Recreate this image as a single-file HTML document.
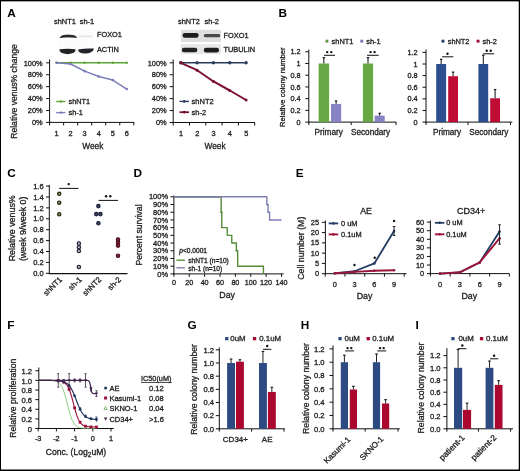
<!DOCTYPE html>
<html><head><meta charset="utf-8"><style>
html,body{margin:0;padding:0;background:#fff;}
svg{display:block;font-family:"Liberation Sans",sans-serif;}
</style></head><body>
<svg width="520" height="471" viewBox="0 0 520 471">
<defs><filter id="bl" x="-20%" y="-50%" width="140%" height="200%"><feGaussianBlur stdDeviation="0.55"/></filter></defs>
<rect x="0" y="0" width="520" height="471" fill="#fff"/>
<g style="will-change:opacity" opacity="0.999">
<text x="7.3" y="17" font-size="11.8" text-anchor="start" fill="#000" font-weight="bold">A</text>
<text x="54" y="24.1" font-size="7.4" text-anchor="start" fill="#222" font-weight="normal" stroke="#222" stroke-width="0.3">shNT1</text>
<text x="79.8" y="24.1" font-size="7.4" text-anchor="start" fill="#222" font-weight="normal" stroke="#222" stroke-width="0.3">sh-1</text>
<rect x="57" y="29" width="38" height="26" fill="#fcfcfc"/>
<g filter="url(#bl)">
<path d="M60.2 37.6 Q61 35.2 68 35.1 Q75.5 35.2 76.6 37.4 Q75 36.9 68 36.9 Q61.5 36.9 60.2 37.6 Z" fill="#222" stroke="#222" stroke-width="0.9"/>
<rect x="78.5" y="35.6" width="14" height="1.6" rx="0.8" fill="#e4e4e4"/>
<path d="M59.4 49.3 Q67.5 48.3 75.6 49.3 Q75.8 53.6 67.5 54.2 Q59.2 53.6 59.4 49.3 Z" fill="#242424"/>
<path d="M78.2 49.6 Q86 48 93.8 48.6 Q93.6 52.8 86 53.6 Q78 53.8 78.2 49.6 Z" fill="#20202c"/>
</g>
<text x="97" y="37.3" font-size="7.3" text-anchor="start" fill="#222" font-weight="normal" stroke="#222" stroke-width="0.3">FOXO1</text>
<text x="97" y="51.8" font-size="7.3" text-anchor="start" fill="#222" font-weight="normal" stroke="#222" stroke-width="0.3">ACTIN</text>
<line x1="49.6" y1="59.5" x2="49.6" y2="123" stroke="#111" stroke-width="1"/>
<line x1="49.1" y1="122.4" x2="134.3" y2="122.4" stroke="#111" stroke-width="1"/>
<line x1="46.1" y1="122.4" x2="49.6" y2="122.4" stroke="#111" stroke-width="1"/>
<text x="42.6" y="125.1" font-size="7.4" text-anchor="end" fill="#222" font-weight="normal" stroke="#222" stroke-width="0.3">0%</text>
<line x1="46.1" y1="110.48" x2="49.6" y2="110.48" stroke="#111" stroke-width="1"/>
<text x="42.6" y="113.18" font-size="7.4" text-anchor="end" fill="#222" font-weight="normal" stroke="#222" stroke-width="0.3">20%</text>
<line x1="46.1" y1="98.56" x2="49.6" y2="98.56" stroke="#111" stroke-width="1"/>
<text x="42.6" y="101.26" font-size="7.4" text-anchor="end" fill="#222" font-weight="normal" stroke="#222" stroke-width="0.3">40%</text>
<line x1="46.1" y1="86.64" x2="49.6" y2="86.64" stroke="#111" stroke-width="1"/>
<text x="42.6" y="89.34" font-size="7.4" text-anchor="end" fill="#222" font-weight="normal" stroke="#222" stroke-width="0.3">60%</text>
<line x1="46.1" y1="74.72" x2="49.6" y2="74.72" stroke="#111" stroke-width="1"/>
<text x="42.6" y="77.42" font-size="7.4" text-anchor="end" fill="#222" font-weight="normal" stroke="#222" stroke-width="0.3">80%</text>
<line x1="46.1" y1="62.8" x2="49.6" y2="62.8" stroke="#111" stroke-width="1"/>
<text x="42.6" y="65.5" font-size="7.4" text-anchor="end" fill="#222" font-weight="normal" stroke="#222" stroke-width="0.3">100%</text>
<line x1="49.6" y1="122.4" x2="49.6" y2="125.4" stroke="#111" stroke-width="1"/>
<line x1="63.63" y1="122.4" x2="63.63" y2="125.4" stroke="#111" stroke-width="1"/>
<line x1="77.66" y1="122.4" x2="77.66" y2="125.4" stroke="#111" stroke-width="1"/>
<line x1="91.69" y1="122.4" x2="91.69" y2="125.4" stroke="#111" stroke-width="1"/>
<line x1="105.72" y1="122.4" x2="105.72" y2="125.4" stroke="#111" stroke-width="1"/>
<line x1="119.75" y1="122.4" x2="119.75" y2="125.4" stroke="#111" stroke-width="1"/>
<line x1="133.78" y1="122.4" x2="133.78" y2="125.4" stroke="#111" stroke-width="1"/>
<text x="56.6" y="136" font-size="7.4" text-anchor="middle" fill="#222" font-weight="normal" stroke="#222" stroke-width="0.3">1</text>
<text x="70.63" y="136" font-size="7.4" text-anchor="middle" fill="#222" font-weight="normal" stroke="#222" stroke-width="0.3">2</text>
<text x="84.66" y="136" font-size="7.4" text-anchor="middle" fill="#222" font-weight="normal" stroke="#222" stroke-width="0.3">3</text>
<text x="98.69" y="136" font-size="7.4" text-anchor="middle" fill="#222" font-weight="normal" stroke="#222" stroke-width="0.3">4</text>
<text x="112.72" y="136" font-size="7.4" text-anchor="middle" fill="#222" font-weight="normal" stroke="#222" stroke-width="0.3">5</text>
<text x="126.75" y="136" font-size="7.4" text-anchor="middle" fill="#222" font-weight="normal" stroke="#222" stroke-width="0.3">6</text>
<text x="92.8" y="149.1" font-size="8.3" text-anchor="middle" fill="#222" font-weight="normal" stroke="#222" stroke-width="0.3">Week</text>
<text x="17.1" y="91.5" font-size="8.6" text-anchor="middle" fill="#222" font-weight="normal" transform="rotate(-90 17.1 91.5)" stroke="#222" stroke-width="0.3">Relative venus% change</text>
<polyline points="56.6,62.8 70.63,62.8 84.66,62.8 98.69,62.8 112.72,62.8 126.75,62.8" fill="none" stroke="#5ea33b" stroke-width="1.4" stroke-linejoin="round"/>
<circle cx="56.6" cy="62.8" r="1.2" fill="#5ea33b" stroke="none" stroke-width="1"/>
<circle cx="70.63" cy="62.8" r="1.2" fill="#5ea33b" stroke="none" stroke-width="1"/>
<circle cx="84.66" cy="62.8" r="1.2" fill="#5ea33b" stroke="none" stroke-width="1"/>
<circle cx="98.69" cy="62.8" r="1.2" fill="#5ea33b" stroke="none" stroke-width="1"/>
<circle cx="112.72" cy="62.8" r="1.2" fill="#5ea33b" stroke="none" stroke-width="1"/>
<circle cx="126.75" cy="62.8" r="1.2" fill="#5ea33b" stroke="none" stroke-width="1"/>
<polyline points="56.6,62.8 70.63,63.99 84.66,71.14 98.69,76.51 112.72,80.08 126.75,89.02" fill="none" stroke="#7c7cb8" stroke-width="1.5" stroke-linejoin="round"/>
<circle cx="56.6" cy="62.8" r="1.3" fill="#7c7cb8" stroke="none" stroke-width="1"/>
<circle cx="70.63" cy="63.99" r="1.3" fill="#7c7cb8" stroke="none" stroke-width="1"/>
<circle cx="84.66" cy="71.14" r="1.3" fill="#7c7cb8" stroke="none" stroke-width="1"/>
<circle cx="98.69" cy="76.51" r="1.3" fill="#7c7cb8" stroke="none" stroke-width="1"/>
<circle cx="112.72" cy="80.08" r="1.3" fill="#7c7cb8" stroke="none" stroke-width="1"/>
<circle cx="126.75" cy="89.02" r="1.3" fill="#7c7cb8" stroke="none" stroke-width="1"/>
<line x1="56.2" y1="101.5" x2="65.4" y2="101.5" stroke="#5ea33b" stroke-width="1.4"/>
<circle cx="61" cy="101.5" r="1.2" fill="#5ea33b" stroke="none" stroke-width="1"/>
<text x="68.6" y="104.2" font-size="7.3" text-anchor="start" fill="#222" font-weight="normal" stroke="#222" stroke-width="0.3">shNT1</text>
<line x1="56.2" y1="112.6" x2="65.4" y2="112.6" stroke="#7c7cb8" stroke-width="1.4"/>
<circle cx="61" cy="112.6" r="1.2" fill="#7c7cb8" stroke="none" stroke-width="1"/>
<text x="68.6" y="115.3" font-size="7.3" text-anchor="start" fill="#222" font-weight="normal" stroke="#222" stroke-width="0.3">sh-1</text>
<text x="178" y="24.3" font-size="7.4" text-anchor="start" fill="#222" font-weight="normal" stroke="#222" stroke-width="0.3">shNT2</text>
<text x="204.6" y="24.3" font-size="7.4" text-anchor="start" fill="#222" font-weight="normal" stroke="#222" stroke-width="0.3">sh-2</text>
<rect x="180.8" y="29.8" width="40.2" height="12.2" fill="#dedede"/>
<rect x="180.8" y="44.3" width="40.2" height="9.8" fill="#e6e6e6"/>
<g filter="url(#bl)">
<rect x="182.6" y="32.9" width="16" height="4.8" rx="2.2" fill="#1e1e1e"/>
<rect x="203.8" y="33.9" width="16.4" height="3.4" rx="1.6" fill="#4a4a4a"/>
<rect x="181.8" y="47.7" width="15.6" height="4.6" rx="2.2" fill="#222"/>
<rect x="203.8" y="47.7" width="15.2" height="4.8" rx="2.3" fill="#1e1e1e"/>
</g>
<text x="223.5" y="37.6" font-size="7.4" text-anchor="start" fill="#222" font-weight="normal" stroke="#222" stroke-width="0.3">FOXO1</text>
<text x="223.5" y="52.4" font-size="7.4" text-anchor="start" fill="#222" font-weight="normal" stroke="#222" stroke-width="0.3">TUBULIN</text>
<line x1="173.2" y1="59.5" x2="173.2" y2="123" stroke="#111" stroke-width="1"/>
<line x1="172.7" y1="122.5" x2="254.8" y2="122.5" stroke="#111" stroke-width="1"/>
<line x1="169.7" y1="122.5" x2="173.2" y2="122.5" stroke="#111" stroke-width="1"/>
<text x="166.6" y="125.2" font-size="7.4" text-anchor="end" fill="#222" font-weight="normal" stroke="#222" stroke-width="0.3">0%</text>
<line x1="169.7" y1="110.56" x2="173.2" y2="110.56" stroke="#111" stroke-width="1"/>
<text x="166.6" y="113.26" font-size="7.4" text-anchor="end" fill="#222" font-weight="normal" stroke="#222" stroke-width="0.3">20%</text>
<line x1="169.7" y1="98.62" x2="173.2" y2="98.62" stroke="#111" stroke-width="1"/>
<text x="166.6" y="101.32" font-size="7.4" text-anchor="end" fill="#222" font-weight="normal" stroke="#222" stroke-width="0.3">40%</text>
<line x1="169.7" y1="86.68" x2="173.2" y2="86.68" stroke="#111" stroke-width="1"/>
<text x="166.6" y="89.38" font-size="7.4" text-anchor="end" fill="#222" font-weight="normal" stroke="#222" stroke-width="0.3">60%</text>
<line x1="169.7" y1="74.74" x2="173.2" y2="74.74" stroke="#111" stroke-width="1"/>
<text x="166.6" y="77.44" font-size="7.4" text-anchor="end" fill="#222" font-weight="normal" stroke="#222" stroke-width="0.3">80%</text>
<line x1="169.7" y1="62.8" x2="173.2" y2="62.8" stroke="#111" stroke-width="1"/>
<text x="166.6" y="65.5" font-size="7.4" text-anchor="end" fill="#222" font-weight="normal" stroke="#222" stroke-width="0.3">100%</text>
<line x1="173.2" y1="122.5" x2="173.2" y2="125.5" stroke="#111" stroke-width="1"/>
<line x1="189.5" y1="122.5" x2="189.5" y2="125.5" stroke="#111" stroke-width="1"/>
<line x1="205.8" y1="122.5" x2="205.8" y2="125.5" stroke="#111" stroke-width="1"/>
<line x1="222.1" y1="122.5" x2="222.1" y2="125.5" stroke="#111" stroke-width="1"/>
<line x1="238.4" y1="122.5" x2="238.4" y2="125.5" stroke="#111" stroke-width="1"/>
<line x1="254.7" y1="122.5" x2="254.7" y2="125.5" stroke="#111" stroke-width="1"/>
<text x="181" y="136" font-size="7.4" text-anchor="middle" fill="#222" font-weight="normal" stroke="#222" stroke-width="0.3">1</text>
<text x="197.3" y="136" font-size="7.4" text-anchor="middle" fill="#222" font-weight="normal" stroke="#222" stroke-width="0.3">2</text>
<text x="213.6" y="136" font-size="7.4" text-anchor="middle" fill="#222" font-weight="normal" stroke="#222" stroke-width="0.3">3</text>
<text x="229.9" y="136" font-size="7.4" text-anchor="middle" fill="#222" font-weight="normal" stroke="#222" stroke-width="0.3">4</text>
<text x="246.2" y="136" font-size="7.4" text-anchor="middle" fill="#222" font-weight="normal" stroke="#222" stroke-width="0.3">5</text>
<text x="215.1" y="149.1" font-size="8.3" text-anchor="middle" fill="#222" font-weight="normal" stroke="#222" stroke-width="0.3">Week</text>
<polyline points="180.8,62.8 197.13,62.8 213.46,62.8 229.79,62.8 246.12,62.8" fill="none" stroke="#2b3b5e" stroke-width="1.4" stroke-linejoin="round"/>
<circle cx="180.8" cy="62.8" r="1.7" fill="#2b3b5e" stroke="none" stroke-width="1"/>
<circle cx="197.13" cy="62.8" r="1.7" fill="#2b3b5e" stroke="none" stroke-width="1"/>
<circle cx="213.46" cy="62.8" r="1.7" fill="#2b3b5e" stroke="none" stroke-width="1"/>
<circle cx="229.79" cy="62.8" r="1.7" fill="#2b3b5e" stroke="none" stroke-width="1"/>
<circle cx="246.12" cy="62.8" r="1.7" fill="#2b3b5e" stroke="none" stroke-width="1"/>
<polyline points="180.8,62.8 197.13,70.2 213.46,81.49 229.79,90.5 246.12,99.99" fill="none" stroke="#7a102f" stroke-width="2" stroke-linejoin="round"/>
<circle cx="180.8" cy="62.8" r="1.5" fill="#7a102f" stroke="none" stroke-width="1"/>
<circle cx="197.13" cy="70.2" r="1.5" fill="#7a102f" stroke="none" stroke-width="1"/>
<circle cx="213.46" cy="81.49" r="1.5" fill="#7a102f" stroke="none" stroke-width="1"/>
<circle cx="229.79" cy="90.5" r="1.5" fill="#7a102f" stroke="none" stroke-width="1"/>
<circle cx="246.12" cy="99.99" r="1.5" fill="#7a102f" stroke="none" stroke-width="1"/>
<line x1="179.5" y1="101.4" x2="189" y2="101.4" stroke="#2b3b5e" stroke-width="1.4"/>
<circle cx="184.3" cy="101.4" r="1.3" fill="#2b3b5e" stroke="none" stroke-width="1"/>
<text x="191.6" y="104.1" font-size="7.5" text-anchor="start" fill="#222" font-weight="normal" stroke="#222" stroke-width="0.3">shNT2</text>
<line x1="179.5" y1="112.2" x2="189" y2="112.2" stroke="#7a102f" stroke-width="1.8"/>
<circle cx="184.3" cy="112.2" r="1.4" fill="#7a102f" stroke="none" stroke-width="1"/>
<text x="191.6" y="114.9" font-size="7.5" text-anchor="start" fill="#222" font-weight="normal" stroke="#222" stroke-width="0.3">sh-2</text>
<text x="278.4" y="17.2" font-size="11.8" text-anchor="start" fill="#000" font-weight="bold">B</text>
<line x1="308.8" y1="49.5" x2="308.8" y2="122.6" stroke="#111" stroke-width="1"/>
<line x1="308.3" y1="122.1" x2="396.3" y2="122.1" stroke="#111" stroke-width="1"/>
<line x1="305.3" y1="122.1" x2="308.8" y2="122.1" stroke="#111" stroke-width="1"/>
<text x="300.6" y="124.7" font-size="7.3" text-anchor="end" fill="#222" font-weight="normal" stroke="#222" stroke-width="0.3">0</text>
<line x1="305.3" y1="110.38" x2="308.8" y2="110.38" stroke="#111" stroke-width="1"/>
<text x="300.6" y="112.98" font-size="7.3" text-anchor="end" fill="#222" font-weight="normal" stroke="#222" stroke-width="0.3">0.2</text>
<line x1="305.3" y1="98.66" x2="308.8" y2="98.66" stroke="#111" stroke-width="1"/>
<text x="300.6" y="101.26" font-size="7.3" text-anchor="end" fill="#222" font-weight="normal" stroke="#222" stroke-width="0.3">0.4</text>
<line x1="305.3" y1="86.94" x2="308.8" y2="86.94" stroke="#111" stroke-width="1"/>
<text x="300.6" y="89.54" font-size="7.3" text-anchor="end" fill="#222" font-weight="normal" stroke="#222" stroke-width="0.3">0.6</text>
<line x1="305.3" y1="75.22" x2="308.8" y2="75.22" stroke="#111" stroke-width="1"/>
<text x="300.6" y="77.82" font-size="7.3" text-anchor="end" fill="#222" font-weight="normal" stroke="#222" stroke-width="0.3">0.8</text>
<line x1="305.3" y1="63.5" x2="308.8" y2="63.5" stroke="#111" stroke-width="1"/>
<text x="300.6" y="66.1" font-size="7.3" text-anchor="end" fill="#222" font-weight="normal" stroke="#222" stroke-width="0.3">1</text>
<line x1="305.3" y1="51.78" x2="308.8" y2="51.78" stroke="#111" stroke-width="1"/>
<text x="300.6" y="54.38" font-size="7.3" text-anchor="end" fill="#222" font-weight="normal" stroke="#222" stroke-width="0.3">1.2</text>
<line x1="308.8" y1="122.1" x2="308.8" y2="125" stroke="#111" stroke-width="1"/>
<line x1="351.2" y1="122.1" x2="351.2" y2="125" stroke="#111" stroke-width="1"/>
<line x1="396" y1="122.1" x2="396" y2="125" stroke="#111" stroke-width="1"/>
<rect x="318.6" y="63.5" width="10.5" height="58.6" fill="#68a844"/>
<line x1="323.85" y1="63.5" x2="323.85" y2="57.64" stroke="#111" stroke-width="1"/>
<line x1="322.65" y1="57.64" x2="325.05" y2="57.64" stroke="#111" stroke-width="1.2"/>
<rect x="331" y="103.93" width="10.2" height="18.17" fill="#8883c3"/>
<line x1="336.1" y1="103.93" x2="336.1" y2="101" stroke="#111" stroke-width="1"/>
<line x1="334.9" y1="101" x2="337.3" y2="101" stroke="#111" stroke-width="1.2"/>
<rect x="362.9" y="63.5" width="10.2" height="58.6" fill="#68a844"/>
<line x1="368" y1="63.5" x2="368" y2="57.64" stroke="#111" stroke-width="1"/>
<line x1="366.8" y1="57.64" x2="369.2" y2="57.64" stroke="#111" stroke-width="1.2"/>
<rect x="374.6" y="115.65" width="10.1" height="6.45" fill="#8883c3"/>
<line x1="379.65" y1="115.65" x2="379.65" y2="113.31" stroke="#111" stroke-width="1"/>
<line x1="378.45" y1="113.31" x2="380.85" y2="113.31" stroke="#111" stroke-width="1.2"/>
<line x1="324" y1="55.3" x2="335" y2="55.3" stroke="#111" stroke-width="1"/>
<circle cx="327.2" cy="52.1" r="1.2" fill="#111" stroke="none" stroke-width="1"/>
<circle cx="331.3" cy="52.1" r="1.2" fill="#111" stroke="none" stroke-width="1"/>
<line x1="367.1" y1="55.3" x2="378.7" y2="55.3" stroke="#111" stroke-width="1"/>
<circle cx="370.5" cy="52.1" r="1.2" fill="#111" stroke="none" stroke-width="1"/>
<circle cx="374.6" cy="52.1" r="1.2" fill="#111" stroke="none" stroke-width="1"/>
<rect x="325.5" y="39.7" width="2.9" height="2.9" fill="#5f9a3c"/>
<text x="331.6" y="43.6" font-size="7.4" text-anchor="start" fill="#222" font-weight="normal" stroke="#222" stroke-width="0.3">shNT1</text>
<rect x="360.3" y="39.7" width="2.9" height="2.9" fill="#7a76b0"/>
<text x="366.3" y="43.6" font-size="7.4" text-anchor="start" fill="#222" font-weight="normal" stroke="#222" stroke-width="0.3">sh-1</text>
<text x="328.7" y="135.4" font-size="8.2" text-anchor="middle" fill="#222" font-weight="normal" stroke="#222" stroke-width="0.3">Primary</text>
<text x="370.6" y="135.4" font-size="8.2" text-anchor="middle" fill="#222" font-weight="normal" stroke="#222" stroke-width="0.3">Secondary</text>
<text x="285.4" y="87.2" font-size="7.6" text-anchor="middle" fill="#222" font-weight="normal" transform="rotate(-90 285.4 87.2)" stroke="#222" stroke-width="0.3">Relative colony number</text>
<line x1="426" y1="49.5" x2="426" y2="122.6" stroke="#111" stroke-width="1"/>
<line x1="425.5" y1="122.1" x2="512.3" y2="122.1" stroke="#111" stroke-width="1"/>
<line x1="422.5" y1="122.1" x2="426" y2="122.1" stroke="#111" stroke-width="1"/>
<text x="417.6" y="124.7" font-size="7.3" text-anchor="end" fill="#222" font-weight="normal" stroke="#222" stroke-width="0.3">0</text>
<line x1="422.5" y1="110.48" x2="426" y2="110.48" stroke="#111" stroke-width="1"/>
<text x="417.6" y="113.08" font-size="7.3" text-anchor="end" fill="#222" font-weight="normal" stroke="#222" stroke-width="0.3">0.2</text>
<line x1="422.5" y1="98.86" x2="426" y2="98.86" stroke="#111" stroke-width="1"/>
<text x="417.6" y="101.46" font-size="7.3" text-anchor="end" fill="#222" font-weight="normal" stroke="#222" stroke-width="0.3">0.4</text>
<line x1="422.5" y1="87.24" x2="426" y2="87.24" stroke="#111" stroke-width="1"/>
<text x="417.6" y="89.84" font-size="7.3" text-anchor="end" fill="#222" font-weight="normal" stroke="#222" stroke-width="0.3">0.6</text>
<line x1="422.5" y1="75.62" x2="426" y2="75.62" stroke="#111" stroke-width="1"/>
<text x="417.6" y="78.22" font-size="7.3" text-anchor="end" fill="#222" font-weight="normal" stroke="#222" stroke-width="0.3">0.8</text>
<line x1="422.5" y1="64" x2="426" y2="64" stroke="#111" stroke-width="1"/>
<text x="417.6" y="66.6" font-size="7.3" text-anchor="end" fill="#222" font-weight="normal" stroke="#222" stroke-width="0.3">1</text>
<line x1="422.5" y1="52.38" x2="426" y2="52.38" stroke="#111" stroke-width="1"/>
<text x="417.6" y="54.98" font-size="7.3" text-anchor="end" fill="#222" font-weight="normal" stroke="#222" stroke-width="0.3">1.2</text>
<line x1="426" y1="122.1" x2="426" y2="125" stroke="#111" stroke-width="1"/>
<line x1="468" y1="122.1" x2="468" y2="125" stroke="#111" stroke-width="1"/>
<line x1="510.5" y1="122.1" x2="510.5" y2="125" stroke="#111" stroke-width="1"/>
<rect x="436.2" y="64" width="9.9" height="58.1" fill="#2c4e8e"/>
<line x1="441.15" y1="64" x2="441.15" y2="59.35" stroke="#111" stroke-width="1"/>
<line x1="439.95" y1="59.35" x2="442.35" y2="59.35" stroke="#111" stroke-width="1.2"/>
<rect x="448.2" y="76.2" width="9.8" height="45.9" fill="#be0c34"/>
<line x1="453.1" y1="76.2" x2="453.1" y2="72.13" stroke="#111" stroke-width="1"/>
<line x1="451.9" y1="72.13" x2="454.3" y2="72.13" stroke="#111" stroke-width="1.2"/>
<rect x="478.4" y="64" width="9.8" height="58.1" fill="#2c4e8e"/>
<line x1="483.3" y1="64" x2="483.3" y2="55.28" stroke="#111" stroke-width="1"/>
<line x1="482.1" y1="55.28" x2="484.5" y2="55.28" stroke="#111" stroke-width="1.2"/>
<rect x="490.2" y="98.28" width="9.8" height="23.82" fill="#be0c34"/>
<line x1="495.1" y1="98.28" x2="495.1" y2="89.56" stroke="#111" stroke-width="1"/>
<line x1="493.9" y1="89.56" x2="496.3" y2="89.56" stroke="#111" stroke-width="1.2"/>
<line x1="442.1" y1="56.8" x2="453.3" y2="56.8" stroke="#111" stroke-width="1"/>
<circle cx="447.5" cy="53.7" r="1.2" fill="#111" stroke="none" stroke-width="1"/>
<line x1="483.2" y1="53.8" x2="494.2" y2="53.8" stroke="#111" stroke-width="1"/>
<circle cx="486.7" cy="50.7" r="1.2" fill="#111" stroke="none" stroke-width="1"/>
<circle cx="490.7" cy="50.7" r="1.2" fill="#111" stroke="none" stroke-width="1"/>
<rect x="441.5" y="39.7" width="2.9" height="2.9" fill="#223a6a"/>
<text x="447.7" y="43.6" font-size="7.4" text-anchor="start" fill="#222" font-weight="normal" stroke="#222" stroke-width="0.3">shNT2</text>
<rect x="476.6" y="39.7" width="2.9" height="2.9" fill="#9a0e30"/>
<text x="482.5" y="43.6" font-size="7.4" text-anchor="start" fill="#222" font-weight="normal" stroke="#222" stroke-width="0.3">sh-2</text>
<text x="447.1" y="135.4" font-size="8.2" text-anchor="middle" fill="#222" font-weight="normal" stroke="#222" stroke-width="0.3">Primary</text>
<text x="488.8" y="135.4" font-size="8.2" text-anchor="middle" fill="#222" font-weight="normal" stroke="#222" stroke-width="0.3">Secondary</text>
<text x="7.2" y="177.3" font-size="11.8" text-anchor="start" fill="#000" font-weight="bold">C</text>
<line x1="49.3" y1="184.8" x2="49.3" y2="273.8" stroke="#111" stroke-width="1"/>
<line x1="48.8" y1="273.6" x2="127.5" y2="273.6" stroke="#111" stroke-width="1.3"/>
<line x1="46" y1="273.3" x2="49.3" y2="273.3" stroke="#111" stroke-width="1"/>
<text x="43.6" y="275.9" font-size="7.5" text-anchor="end" fill="#222" font-weight="normal" stroke="#222" stroke-width="0.3">0.0</text>
<line x1="46" y1="262.4" x2="49.3" y2="262.4" stroke="#111" stroke-width="1"/>
<text x="43.6" y="265" font-size="7.5" text-anchor="end" fill="#222" font-weight="normal" stroke="#222" stroke-width="0.3">0.2</text>
<line x1="46" y1="251.5" x2="49.3" y2="251.5" stroke="#111" stroke-width="1"/>
<text x="43.6" y="254.1" font-size="7.5" text-anchor="end" fill="#222" font-weight="normal" stroke="#222" stroke-width="0.3">0.4</text>
<line x1="46" y1="240.6" x2="49.3" y2="240.6" stroke="#111" stroke-width="1"/>
<text x="43.6" y="243.2" font-size="7.5" text-anchor="end" fill="#222" font-weight="normal" stroke="#222" stroke-width="0.3">0.6</text>
<line x1="46" y1="229.7" x2="49.3" y2="229.7" stroke="#111" stroke-width="1"/>
<text x="43.6" y="232.3" font-size="7.5" text-anchor="end" fill="#222" font-weight="normal" stroke="#222" stroke-width="0.3">0.8</text>
<line x1="46" y1="218.8" x2="49.3" y2="218.8" stroke="#111" stroke-width="1"/>
<text x="43.6" y="221.4" font-size="7.5" text-anchor="end" fill="#222" font-weight="normal" stroke="#222" stroke-width="0.3">1.0</text>
<line x1="46" y1="207.9" x2="49.3" y2="207.9" stroke="#111" stroke-width="1"/>
<text x="43.6" y="210.5" font-size="7.5" text-anchor="end" fill="#222" font-weight="normal" stroke="#222" stroke-width="0.3">1.2</text>
<line x1="46" y1="197" x2="49.3" y2="197" stroke="#111" stroke-width="1"/>
<text x="43.6" y="199.6" font-size="7.5" text-anchor="end" fill="#222" font-weight="normal" stroke="#222" stroke-width="0.3">1.4</text>
<line x1="46" y1="186.1" x2="49.3" y2="186.1" stroke="#111" stroke-width="1"/>
<text x="43.6" y="188.7" font-size="7.5" text-anchor="end" fill="#222" font-weight="normal" stroke="#222" stroke-width="0.3">1.6</text>
<text x="15" y="228.3" font-size="8.9" text-anchor="middle" fill="#222" font-weight="normal" transform="rotate(-90 15 228.3)" stroke="#222" stroke-width="0.3">Relative venus%</text>
<text x="26.2" y="228.8" font-size="8.9" text-anchor="middle" fill="#222" font-weight="normal" transform="rotate(-90 26.2 228.8)" stroke="#222" stroke-width="0.3">(week 9/week 0)</text>
<circle cx="59.2" cy="193.7" r="1.65" fill="#8d9870" stroke="#252d14" stroke-width="1.25"/>
<circle cx="59.2" cy="202.7" r="1.65" fill="#8d9870" stroke="#252d14" stroke-width="1.25"/>
<circle cx="59.2" cy="214.2" r="1.65" fill="#8d9870" stroke="#252d14" stroke-width="1.25"/>
<circle cx="78.9" cy="243.6" r="1.65" fill="#c4c4d6" stroke="#26263a" stroke-width="1.25"/>
<circle cx="78.9" cy="247.2" r="1.65" fill="#c4c4d6" stroke="#26263a" stroke-width="1.25"/>
<circle cx="78.9" cy="250.9" r="1.65" fill="#c4c4d6" stroke="#26263a" stroke-width="1.25"/>
<circle cx="78.9" cy="267" r="1.65" fill="#c4c4d6" stroke="#26263a" stroke-width="1.25"/>
<circle cx="98.4" cy="206.1" r="1.75" fill="#3c4262" stroke="#1b2038" stroke-width="1.05"/>
<circle cx="96.3" cy="214.1" r="1.75" fill="#3c4262" stroke="#1b2038" stroke-width="1.05"/>
<circle cx="100.4" cy="214.1" r="1.75" fill="#3c4262" stroke="#1b2038" stroke-width="1.05"/>
<circle cx="98.4" cy="223.3" r="1.75" fill="#3c4262" stroke="#1b2038" stroke-width="1.05"/>
<circle cx="118" cy="239.6" r="1.75" fill="#7c1c36" stroke="#4a0f1c" stroke-width="1.05"/>
<circle cx="118" cy="242.6" r="1.75" fill="#7c1c36" stroke="#4a0f1c" stroke-width="1.05"/>
<circle cx="118" cy="245.6" r="1.75" fill="#7c1c36" stroke="#4a0f1c" stroke-width="1.05"/>
<circle cx="118" cy="255.7" r="1.75" fill="#7c1c36" stroke="#4a0f1c" stroke-width="1.05"/>
<line x1="59.2" y1="188.4" x2="78.5" y2="188.4" stroke="#111" stroke-width="1"/>
<circle cx="68.7" cy="184.1" r="1.2" fill="#111" stroke="none" stroke-width="1"/>
<line x1="98.6" y1="200.4" x2="118" y2="200.4" stroke="#111" stroke-width="1"/>
<circle cx="106.1" cy="196.2" r="1.2" fill="#111" stroke="none" stroke-width="1"/>
<circle cx="110.3" cy="196.2" r="1.2" fill="#111" stroke="none" stroke-width="1"/>
<text x="62.7" y="280.1" font-size="7.8" text-anchor="end" fill="#222" font-weight="normal" transform="rotate(-45 62.7 280.1)" stroke="#222" stroke-width="0.3">shNT1</text>
<text x="82.3" y="280.1" font-size="7.8" text-anchor="end" fill="#222" font-weight="normal" transform="rotate(-45 82.3 280.1)" stroke="#222" stroke-width="0.3">sh-1</text>
<text x="101.9" y="280.1" font-size="7.8" text-anchor="end" fill="#222" font-weight="normal" transform="rotate(-45 101.9 280.1)" stroke="#222" stroke-width="0.3">shNT2</text>
<text x="121.5" y="280.1" font-size="7.8" text-anchor="end" fill="#222" font-weight="normal" transform="rotate(-45 121.5 280.1)" stroke="#222" stroke-width="0.3">sh-2</text>
<text x="133.6" y="177.3" font-size="11.8" text-anchor="start" fill="#000" font-weight="bold">D</text>
<line x1="173.9" y1="195.5" x2="173.9" y2="274.4" stroke="#111" stroke-width="1"/>
<line x1="173.4" y1="273.9" x2="283.6" y2="273.9" stroke="#111" stroke-width="1"/>
<line x1="170.4" y1="273.9" x2="173.9" y2="273.9" stroke="#111" stroke-width="1"/>
<text x="168.1" y="276.5" font-size="7.5" text-anchor="end" fill="#222" font-weight="normal" stroke="#222" stroke-width="0.3">0%</text>
<line x1="170.4" y1="266.19" x2="173.9" y2="266.19" stroke="#111" stroke-width="1"/>
<text x="168.1" y="268.79" font-size="7.5" text-anchor="end" fill="#222" font-weight="normal" stroke="#222" stroke-width="0.3">10%</text>
<line x1="170.4" y1="258.48" x2="173.9" y2="258.48" stroke="#111" stroke-width="1"/>
<text x="168.1" y="261.08" font-size="7.5" text-anchor="end" fill="#222" font-weight="normal" stroke="#222" stroke-width="0.3">20%</text>
<line x1="170.4" y1="250.77" x2="173.9" y2="250.77" stroke="#111" stroke-width="1"/>
<text x="168.1" y="253.37" font-size="7.5" text-anchor="end" fill="#222" font-weight="normal" stroke="#222" stroke-width="0.3">30%</text>
<line x1="170.4" y1="243.06" x2="173.9" y2="243.06" stroke="#111" stroke-width="1"/>
<text x="168.1" y="245.66" font-size="7.5" text-anchor="end" fill="#222" font-weight="normal" stroke="#222" stroke-width="0.3">40%</text>
<line x1="170.4" y1="235.35" x2="173.9" y2="235.35" stroke="#111" stroke-width="1"/>
<text x="168.1" y="237.95" font-size="7.5" text-anchor="end" fill="#222" font-weight="normal" stroke="#222" stroke-width="0.3">50%</text>
<line x1="170.4" y1="227.64" x2="173.9" y2="227.64" stroke="#111" stroke-width="1"/>
<text x="168.1" y="230.24" font-size="7.5" text-anchor="end" fill="#222" font-weight="normal" stroke="#222" stroke-width="0.3">60%</text>
<line x1="170.4" y1="219.93" x2="173.9" y2="219.93" stroke="#111" stroke-width="1"/>
<text x="168.1" y="222.53" font-size="7.5" text-anchor="end" fill="#222" font-weight="normal" stroke="#222" stroke-width="0.3">70%</text>
<line x1="170.4" y1="212.22" x2="173.9" y2="212.22" stroke="#111" stroke-width="1"/>
<text x="168.1" y="214.82" font-size="7.5" text-anchor="end" fill="#222" font-weight="normal" stroke="#222" stroke-width="0.3">80%</text>
<line x1="170.4" y1="204.51" x2="173.9" y2="204.51" stroke="#111" stroke-width="1"/>
<text x="168.1" y="207.11" font-size="7.5" text-anchor="end" fill="#222" font-weight="normal" stroke="#222" stroke-width="0.3">90%</text>
<line x1="170.4" y1="196.8" x2="173.9" y2="196.8" stroke="#111" stroke-width="1"/>
<text x="168.1" y="199.4" font-size="7.5" text-anchor="end" fill="#222" font-weight="normal" stroke="#222" stroke-width="0.3">100%</text>
<line x1="173.9" y1="273.9" x2="173.9" y2="276.8" stroke="#111" stroke-width="1"/>
<text x="173.9" y="285.3" font-size="7.2" text-anchor="middle" fill="#222" font-weight="normal" stroke="#222" stroke-width="0.3">0</text>
<line x1="189.27" y1="273.9" x2="189.27" y2="276.8" stroke="#111" stroke-width="1"/>
<text x="189.27" y="285.3" font-size="7.2" text-anchor="middle" fill="#222" font-weight="normal" stroke="#222" stroke-width="0.3">20</text>
<line x1="204.64" y1="273.9" x2="204.64" y2="276.8" stroke="#111" stroke-width="1"/>
<text x="204.64" y="285.3" font-size="7.2" text-anchor="middle" fill="#222" font-weight="normal" stroke="#222" stroke-width="0.3">40</text>
<line x1="220.01" y1="273.9" x2="220.01" y2="276.8" stroke="#111" stroke-width="1"/>
<text x="220.01" y="285.3" font-size="7.2" text-anchor="middle" fill="#222" font-weight="normal" stroke="#222" stroke-width="0.3">60</text>
<line x1="235.38" y1="273.9" x2="235.38" y2="276.8" stroke="#111" stroke-width="1"/>
<text x="235.38" y="285.3" font-size="7.2" text-anchor="middle" fill="#222" font-weight="normal" stroke="#222" stroke-width="0.3">80</text>
<line x1="250.75" y1="273.9" x2="250.75" y2="276.8" stroke="#111" stroke-width="1"/>
<text x="250.75" y="285.3" font-size="7.2" text-anchor="middle" fill="#222" font-weight="normal" stroke="#222" stroke-width="0.3">100</text>
<line x1="266.12" y1="273.9" x2="266.12" y2="276.8" stroke="#111" stroke-width="1"/>
<text x="266.12" y="285.3" font-size="7.2" text-anchor="middle" fill="#222" font-weight="normal" stroke="#222" stroke-width="0.3">120</text>
<line x1="281.49" y1="273.9" x2="281.49" y2="276.8" stroke="#111" stroke-width="1"/>
<text x="281.49" y="285.3" font-size="7.2" text-anchor="middle" fill="#222" font-weight="normal" stroke="#222" stroke-width="0.3">140</text>
<text x="227.2" y="298.2" font-size="8.8" text-anchor="middle" fill="#222" font-weight="normal" stroke="#222" stroke-width="0.3">Day</text>
<text x="141.6" y="235" font-size="8.6" text-anchor="middle" fill="#222" font-weight="normal" transform="rotate(-90 141.6 235)" stroke="#222" stroke-width="0.3">Percent survival</text>
<polyline points="173.9,197.1 221.16,197.1 221.16,212.22 221.78,212.22 221.78,227.64 227.23,227.64 227.23,235.35 231.77,235.35 231.77,243.06 236.38,243.06 236.38,250.77 237.69,250.77 237.69,266.19 263.43,266.19 263.43,273.9" fill="none" stroke="#558c36" stroke-width="1.4" stroke-linejoin="round" stroke-linejoin="miter"/>
<polyline points="173.9,196.8 266.89,196.8 266.89,204.51 268.04,204.51 268.04,212.22 269.58,212.22 269.58,219.93 281.49,219.93" fill="none" stroke="#7d7db5" stroke-width="1.4" stroke-linejoin="round" stroke-linejoin="miter"/>
<line x1="220.17" y1="212.22" x2="222.77" y2="212.22" stroke="#558c36" stroke-width="1.2"/>
<line x1="235.54" y1="250.77" x2="238.14" y2="250.77" stroke="#558c36" stroke-width="1.2"/>
<line x1="266.05" y1="204.51" x2="268.65" y2="204.51" stroke="#7d7db5" stroke-width="1.2"/>
<line x1="267.43" y1="212.22" x2="270.03" y2="212.22" stroke="#7d7db5" stroke-width="1.2"/>
<text x="179.3" y="253.1" font-size="6.6" text-anchor="start" fill="#222" font-weight="normal" stroke="#222" stroke-width="0.3"><tspan font-style="italic">p</tspan>&lt;0.0001</text>
<line x1="176.4" y1="260.2" x2="184.9" y2="260.2" stroke="#558c36" stroke-width="1.4"/>
<text x="188.3" y="262.5" font-size="6.6" text-anchor="start" fill="#222" font-weight="normal" stroke="#222" stroke-width="0.3">shNT1 (n=10)</text>
<line x1="176.4" y1="267.8" x2="184.9" y2="267.8" stroke="#7d7db5" stroke-width="1.4"/>
<text x="188.3" y="270.6" font-size="6.6" text-anchor="start" fill="#222" font-weight="normal" stroke="#222" stroke-width="0.3">sh-1 (n=10)</text>
<text x="295.8" y="177.3" font-size="11.8" text-anchor="start" fill="#000" font-weight="bold">E</text>
<line x1="325.4" y1="220.5" x2="325.4" y2="274.2" stroke="#111" stroke-width="1"/>
<line x1="324.9" y1="273.7" x2="406.5" y2="273.7" stroke="#111" stroke-width="1"/>
<line x1="321.9" y1="273.7" x2="325.4" y2="273.7" stroke="#111" stroke-width="1"/>
<text x="319" y="276.3" font-size="7.4" text-anchor="end" fill="#222" font-weight="normal" stroke="#222" stroke-width="0.3">0</text>
<line x1="321.9" y1="263.42" x2="325.4" y2="263.42" stroke="#111" stroke-width="1"/>
<text x="319" y="266.02" font-size="7.4" text-anchor="end" fill="#222" font-weight="normal" stroke="#222" stroke-width="0.3">5</text>
<line x1="321.9" y1="253.14" x2="325.4" y2="253.14" stroke="#111" stroke-width="1"/>
<text x="319" y="255.74" font-size="7.4" text-anchor="end" fill="#222" font-weight="normal" stroke="#222" stroke-width="0.3">10</text>
<line x1="321.9" y1="242.86" x2="325.4" y2="242.86" stroke="#111" stroke-width="1"/>
<text x="319" y="245.46" font-size="7.4" text-anchor="end" fill="#222" font-weight="normal" stroke="#222" stroke-width="0.3">15</text>
<line x1="321.9" y1="232.58" x2="325.4" y2="232.58" stroke="#111" stroke-width="1"/>
<text x="319" y="235.18" font-size="7.4" text-anchor="end" fill="#222" font-weight="normal" stroke="#222" stroke-width="0.3">20</text>
<line x1="321.9" y1="222.3" x2="325.4" y2="222.3" stroke="#111" stroke-width="1"/>
<text x="319" y="224.9" font-size="7.4" text-anchor="end" fill="#222" font-weight="normal" stroke="#222" stroke-width="0.3">25</text>
<line x1="325.2" y1="273.7" x2="325.2" y2="276.6" stroke="#111" stroke-width="1"/>
<line x1="344.95" y1="273.7" x2="344.95" y2="276.6" stroke="#111" stroke-width="1"/>
<line x1="364.7" y1="273.7" x2="364.7" y2="276.6" stroke="#111" stroke-width="1"/>
<line x1="384.45" y1="273.7" x2="384.45" y2="276.6" stroke="#111" stroke-width="1"/>
<line x1="404.2" y1="273.7" x2="404.2" y2="276.6" stroke="#111" stroke-width="1"/>
<text x="334.8" y="286.7" font-size="7.4" text-anchor="middle" fill="#222" font-weight="normal" stroke="#222" stroke-width="0.3">0</text>
<text x="354.55" y="286.7" font-size="7.4" text-anchor="middle" fill="#222" font-weight="normal" stroke="#222" stroke-width="0.3">3</text>
<text x="374.3" y="286.7" font-size="7.4" text-anchor="middle" fill="#222" font-weight="normal" stroke="#222" stroke-width="0.3">6</text>
<text x="394.05" y="286.7" font-size="7.4" text-anchor="middle" fill="#222" font-weight="normal" stroke="#222" stroke-width="0.3">9</text>
<text x="364.5" y="298.6" font-size="8.8" text-anchor="middle" fill="#222" font-weight="normal" stroke="#222" stroke-width="0.3">Day</text>
<text x="366" y="214" font-size="8.8" text-anchor="middle" fill="#222" font-weight="normal" stroke="#222" stroke-width="0.3">AE</text>
<text x="304" y="248.2" font-size="8.8" text-anchor="middle" fill="#222" font-weight="normal" transform="rotate(-90 304 248.2)" stroke="#222" stroke-width="0.3">Cell number (M)</text>
<polyline points="334.8,273.29 354.55,271.23 374.3,263.42 394.05,230.94" fill="none" stroke="#233d64" stroke-width="1.8" stroke-linejoin="round"/>
<circle cx="334.8" cy="273.29" r="1.3" fill="#233d64" stroke="none" stroke-width="1"/>
<circle cx="354.55" cy="271.23" r="1.3" fill="#233d64" stroke="none" stroke-width="1"/>
<circle cx="374.3" cy="263.42" r="1.3" fill="#233d64" stroke="none" stroke-width="1"/>
<circle cx="394.05" cy="230.94" r="1.3" fill="#233d64" stroke="none" stroke-width="1"/>
<polyline points="334.8,273.29 354.55,271.85 374.3,270.82 394.05,270.2" fill="none" stroke="#9c163c" stroke-width="1.9" stroke-linejoin="round"/>
<circle cx="334.8" cy="273.29" r="1.3" fill="#9c163c" stroke="none" stroke-width="1"/>
<circle cx="354.55" cy="271.85" r="1.3" fill="#9c163c" stroke="none" stroke-width="1"/>
<circle cx="374.3" cy="270.82" r="1.3" fill="#9c163c" stroke="none" stroke-width="1"/>
<circle cx="394.05" cy="270.2" r="1.3" fill="#9c163c" stroke="none" stroke-width="1"/>
<line x1="394.05" y1="226.5" x2="394.05" y2="235.5" stroke="#222" stroke-width="1"/>
<line x1="392.75" y1="226.5" x2="395.35" y2="226.5" stroke="#222" stroke-width="1"/>
<line x1="392.75" y1="235.5" x2="395.35" y2="235.5" stroke="#222" stroke-width="1"/>
<circle cx="354.5" cy="265" r="1.2" fill="#111" stroke="none" stroke-width="1"/>
<circle cx="374.7" cy="257.8" r="1.2" fill="#111" stroke="none" stroke-width="1"/>
<circle cx="394.1" cy="220.9" r="1.2" fill="#111" stroke="none" stroke-width="1"/>
<line x1="328.7" y1="223.4" x2="338.2" y2="223.4" stroke="#233d64" stroke-width="1.8"/>
<circle cx="333.4" cy="223.4" r="1.3" fill="#233d64" stroke="none" stroke-width="1"/>
<text x="341" y="226" font-size="7.4" text-anchor="start" fill="#222" font-weight="normal" stroke="#222" stroke-width="0.3">0 uM</text>
<line x1="328.7" y1="234.4" x2="338.2" y2="234.4" stroke="#9c163c" stroke-width="1.9"/>
<circle cx="333.4" cy="234.4" r="1.3" fill="#9c163c" stroke="none" stroke-width="1"/>
<text x="341" y="237" font-size="7.4" text-anchor="start" fill="#222" font-weight="normal" stroke="#222" stroke-width="0.3">0.1uM</text>
<line x1="430.4" y1="220.5" x2="430.4" y2="274.1" stroke="#111" stroke-width="1"/>
<line x1="429.9" y1="273.6" x2="509.2" y2="273.6" stroke="#111" stroke-width="1"/>
<line x1="426.9" y1="273.6" x2="430.4" y2="273.6" stroke="#111" stroke-width="1"/>
<text x="424.2" y="276.2" font-size="7.4" text-anchor="end" fill="#222" font-weight="normal" stroke="#222" stroke-width="0.3">0</text>
<line x1="426.9" y1="265.02" x2="430.4" y2="265.02" stroke="#111" stroke-width="1"/>
<text x="424.2" y="267.62" font-size="7.4" text-anchor="end" fill="#222" font-weight="normal" stroke="#222" stroke-width="0.3">10</text>
<line x1="426.9" y1="256.44" x2="430.4" y2="256.44" stroke="#111" stroke-width="1"/>
<text x="424.2" y="259.04" font-size="7.4" text-anchor="end" fill="#222" font-weight="normal" stroke="#222" stroke-width="0.3">20</text>
<line x1="426.9" y1="247.86" x2="430.4" y2="247.86" stroke="#111" stroke-width="1"/>
<text x="424.2" y="250.46" font-size="7.4" text-anchor="end" fill="#222" font-weight="normal" stroke="#222" stroke-width="0.3">30</text>
<line x1="426.9" y1="239.28" x2="430.4" y2="239.28" stroke="#111" stroke-width="1"/>
<text x="424.2" y="241.88" font-size="7.4" text-anchor="end" fill="#222" font-weight="normal" stroke="#222" stroke-width="0.3">40</text>
<line x1="426.9" y1="230.7" x2="430.4" y2="230.7" stroke="#111" stroke-width="1"/>
<text x="424.2" y="233.3" font-size="7.4" text-anchor="end" fill="#222" font-weight="normal" stroke="#222" stroke-width="0.3">50</text>
<line x1="426.9" y1="222.12" x2="430.4" y2="222.12" stroke="#111" stroke-width="1"/>
<text x="424.2" y="224.72" font-size="7.4" text-anchor="end" fill="#222" font-weight="normal" stroke="#222" stroke-width="0.3">60</text>
<line x1="430.4" y1="273.6" x2="430.4" y2="276.5" stroke="#111" stroke-width="1"/>
<line x1="450.15" y1="273.6" x2="450.15" y2="276.5" stroke="#111" stroke-width="1"/>
<line x1="469.9" y1="273.6" x2="469.9" y2="276.5" stroke="#111" stroke-width="1"/>
<line x1="489.65" y1="273.6" x2="489.65" y2="276.5" stroke="#111" stroke-width="1"/>
<line x1="509.4" y1="273.6" x2="509.4" y2="276.5" stroke="#111" stroke-width="1"/>
<text x="440" y="286.7" font-size="7.4" text-anchor="middle" fill="#222" font-weight="normal" stroke="#222" stroke-width="0.3">0</text>
<text x="459.85" y="286.7" font-size="7.4" text-anchor="middle" fill="#222" font-weight="normal" stroke="#222" stroke-width="0.3">3</text>
<text x="479.7" y="286.7" font-size="7.4" text-anchor="middle" fill="#222" font-weight="normal" stroke="#222" stroke-width="0.3">6</text>
<text x="499.55" y="286.7" font-size="7.4" text-anchor="middle" fill="#222" font-weight="normal" stroke="#222" stroke-width="0.3">9</text>
<text x="469.3" y="298.6" font-size="8.8" text-anchor="middle" fill="#222" font-weight="normal" stroke="#222" stroke-width="0.3">Day</text>
<text x="471.2" y="214.2" font-size="9" text-anchor="middle" fill="#222" font-weight="normal" stroke="#222" stroke-width="0.3">CD34+</text>
<polyline points="440,273.6 459.85,272.31 479.7,262.45 499.55,231.56" fill="none" stroke="#233d64" stroke-width="1.8" stroke-linejoin="round"/>
<circle cx="440" cy="273.6" r="1.3" fill="#233d64" stroke="none" stroke-width="1"/>
<circle cx="459.85" cy="272.31" r="1.3" fill="#233d64" stroke="none" stroke-width="1"/>
<circle cx="479.7" cy="262.45" r="1.3" fill="#233d64" stroke="none" stroke-width="1"/>
<circle cx="499.55" cy="231.56" r="1.3" fill="#233d64" stroke="none" stroke-width="1"/>
<polyline points="440,273.6 459.85,272.31 479.7,262.45 499.55,238.42" fill="none" stroke="#9c163c" stroke-width="1.9" stroke-linejoin="round"/>
<circle cx="440" cy="273.6" r="1.3" fill="#9c163c" stroke="none" stroke-width="1"/>
<circle cx="459.85" cy="272.31" r="1.3" fill="#9c163c" stroke="none" stroke-width="1"/>
<circle cx="479.7" cy="262.45" r="1.3" fill="#9c163c" stroke="none" stroke-width="1"/>
<circle cx="499.55" cy="238.42" r="1.3" fill="#9c163c" stroke="none" stroke-width="1"/>
<line x1="499.55" y1="224.8" x2="499.55" y2="244.2" stroke="#222" stroke-width="1"/>
<line x1="498.25" y1="224.8" x2="500.85" y2="224.8" stroke="#222" stroke-width="1"/>
<line x1="498.25" y1="244.2" x2="500.85" y2="244.2" stroke="#222" stroke-width="1"/>
<line x1="434.9" y1="222.8" x2="444.4" y2="222.8" stroke="#233d64" stroke-width="1.8"/>
<circle cx="439.6" cy="222.8" r="1.3" fill="#233d64" stroke="none" stroke-width="1"/>
<text x="446.2" y="225.4" font-size="7.4" text-anchor="start" fill="#222" font-weight="normal" stroke="#222" stroke-width="0.3">0 uM</text>
<line x1="434.9" y1="234.3" x2="444.4" y2="234.3" stroke="#9c163c" stroke-width="1.9"/>
<circle cx="439.6" cy="234.3" r="1.3" fill="#9c163c" stroke="none" stroke-width="1"/>
<text x="446.2" y="236.9" font-size="7.4" text-anchor="start" fill="#222" font-weight="normal" stroke="#222" stroke-width="0.3">0.1uM</text>
<text x="7.2" y="328.7" font-size="11.8" text-anchor="start" fill="#000" font-weight="bold">F</text>
<line x1="38.8" y1="367.5" x2="38.8" y2="429" stroke="#111" stroke-width="1"/>
<line x1="38.3" y1="428.5" x2="113.8" y2="428.5" stroke="#111" stroke-width="1"/>
<line x1="35.3" y1="428.5" x2="38.8" y2="428.5" stroke="#111" stroke-width="1"/>
<text x="32.1" y="431.6" font-size="7.6" text-anchor="end" fill="#222" font-weight="normal" stroke="#222" stroke-width="0.3">0</text>
<line x1="35.3" y1="418.88" x2="38.8" y2="418.88" stroke="#111" stroke-width="1"/>
<text x="32.1" y="421.98" font-size="7.6" text-anchor="end" fill="#222" font-weight="normal" stroke="#222" stroke-width="0.3">0.2</text>
<line x1="35.3" y1="409.26" x2="38.8" y2="409.26" stroke="#111" stroke-width="1"/>
<text x="32.1" y="412.36" font-size="7.6" text-anchor="end" fill="#222" font-weight="normal" stroke="#222" stroke-width="0.3">0.4</text>
<line x1="35.3" y1="399.64" x2="38.8" y2="399.64" stroke="#111" stroke-width="1"/>
<text x="32.1" y="402.74" font-size="7.6" text-anchor="end" fill="#222" font-weight="normal" stroke="#222" stroke-width="0.3">0.6</text>
<line x1="35.3" y1="390.02" x2="38.8" y2="390.02" stroke="#111" stroke-width="1"/>
<text x="32.1" y="393.12" font-size="7.6" text-anchor="end" fill="#222" font-weight="normal" stroke="#222" stroke-width="0.3">0.8</text>
<line x1="35.3" y1="380.4" x2="38.8" y2="380.4" stroke="#111" stroke-width="1"/>
<text x="32.1" y="383.5" font-size="7.6" text-anchor="end" fill="#222" font-weight="normal" stroke="#222" stroke-width="0.3">1.0</text>
<line x1="35.3" y1="370.78" x2="38.8" y2="370.78" stroke="#111" stroke-width="1"/>
<text x="32.1" y="373.88" font-size="7.6" text-anchor="end" fill="#222" font-weight="normal" stroke="#222" stroke-width="0.3">1.2</text>
<line x1="38.2" y1="428.5" x2="38.2" y2="431.4" stroke="#111" stroke-width="1"/>
<text x="38.2" y="441.3" font-size="7.3" text-anchor="middle" fill="#222" font-weight="normal" stroke="#222" stroke-width="0.3">-3</text>
<line x1="56.4" y1="428.5" x2="56.4" y2="431.4" stroke="#111" stroke-width="1"/>
<text x="56.4" y="441.3" font-size="7.3" text-anchor="middle" fill="#222" font-weight="normal" stroke="#222" stroke-width="0.3">-2</text>
<line x1="74.6" y1="428.5" x2="74.6" y2="431.4" stroke="#111" stroke-width="1"/>
<text x="74.6" y="441.3" font-size="7.3" text-anchor="middle" fill="#222" font-weight="normal" stroke="#222" stroke-width="0.3">-1</text>
<line x1="92.8" y1="428.5" x2="92.8" y2="431.4" stroke="#111" stroke-width="1"/>
<text x="92.8" y="441.3" font-size="7.3" text-anchor="middle" fill="#222" font-weight="normal" stroke="#222" stroke-width="0.3">0</text>
<line x1="111" y1="428.5" x2="111" y2="431.4" stroke="#111" stroke-width="1"/>
<text x="111" y="441.3" font-size="7.3" text-anchor="middle" fill="#222" font-weight="normal" stroke="#222" stroke-width="0.3">1</text>
<text x="76" y="455.4" font-size="8.6" text-anchor="middle" fill="#222" font-weight="normal" stroke="#222" stroke-width="0.3">Conc. (Log<tspan font-size="6.4" dy="1.9">2</tspan><tspan dy="-1.9">uM)</tspan></text>
<text x="16.4" y="398.2" font-size="8.7" text-anchor="middle" fill="#222" font-weight="normal" transform="rotate(-90 16.4 398.2)" stroke="#222" stroke-width="0.3">Relative proliferation</text>
<polyline points="38.2,380.4 38.56,380.4 38.93,380.4 39.29,380.4 39.66,380.41 40.02,380.41 40.38,380.41 40.75,380.41 41.11,380.41 41.48,380.41 41.84,380.41 42.2,380.41 42.57,380.41 42.93,380.41 43.3,380.42 43.66,380.42 44.02,380.42 44.39,380.42 44.75,380.43 45.12,380.43 45.48,380.43 45.84,380.44 46.21,380.44 46.57,380.45 46.94,380.46 47.3,380.46 47.66,380.47 48.03,380.48 48.39,380.49 48.76,380.5 49.12,380.51 49.48,380.53 49.85,380.54 50.21,380.56 50.58,380.58 50.94,380.61 51.3,380.63 51.67,380.66 52.03,380.69 52.4,380.73 52.76,380.77 53.12,380.82 53.49,380.87 53.85,380.93 54.22,381 54.58,381.08 54.94,381.16 55.31,381.26 55.67,381.36 56.04,381.48 56.4,381.62 56.76,381.77 57.13,381.93 57.49,382.12 57.86,382.33 58.22,382.57 58.58,382.83 58.95,383.12 59.31,383.45 59.68,383.81 60.04,384.21 60.4,384.65 60.77,385.13 61.13,385.67 61.5,386.26 61.86,386.9 62.22,387.61 62.59,388.37 62.95,389.2 63.32,390.09 63.68,391.05 64.04,392.08 64.41,393.17 64.77,394.32 65.14,395.54 65.5,396.81 65.86,398.12 66.23,399.48 66.59,400.88 66.96,402.3 67.32,403.73 67.68,405.17 68.05,406.6 68.41,408.02 68.78,409.42 69.14,410.78 69.5,412.09 69.87,413.36 70.23,414.58 70.6,415.73 70.96,416.82 71.32,417.85 71.69,418.81 72.05,419.7 72.42,420.53 72.78,421.29 73.14,422 73.51,422.64 73.87,423.23 74.24,423.77 74.6,424.25 74.96,424.69 75.33,425.09 75.69,425.45 76.06,425.78 76.42,426.07 76.78,426.33 77.15,426.57 77.51,426.78 77.88,426.97 78.24,427.13 78.6,427.28 78.97,427.42 79.33,427.54 79.7,427.64 80.06,427.74 80.42,427.82 80.79,427.9 81.15,427.97 81.52,428.03 81.88,428.08 82.24,428.13 82.61,428.17 82.97,428.21 83.34,428.24 83.7,428.27 84.06,428.29 84.43,428.32 84.79,428.34 85.16,428.36 85.52,428.37 85.88,428.39 86.25,428.4 86.61,428.41 86.98,428.42 87.34,428.43 87.7,428.44 88.07,428.44 88.43,428.45 88.8,428.46 89.16,428.46 89.52,428.47 89.89,428.47 90.25,428.47 90.62,428.48 90.98,428.48 91.34,428.48 91.71,428.48 92.07,428.49 92.44,428.49 92.8,428.49 93.16,428.49 93.53,428.49 93.89,428.49 94.26,428.49 94.62,428.49 94.98,428.49 95.35,428.49 95.71,428.5 96.08,428.5 96.44,428.5" fill="none" stroke="#7dbf6a" stroke-width="0.9" stroke-linejoin="round"/>
<polyline points="38.2,380.4 38.56,380.4 38.93,380.4 39.29,380.4 39.66,380.4 40.02,380.4 40.38,380.4 40.75,380.4 41.11,380.4 41.48,380.4 41.84,380.4 42.2,380.4 42.57,380.4 42.93,380.4 43.3,380.4 43.66,380.4 44.02,380.4 44.39,380.4 44.75,380.4 45.12,380.4 45.48,380.4 45.84,380.41 46.21,380.41 46.57,380.41 46.94,380.41 47.3,380.41 47.66,380.41 48.03,380.41 48.39,380.41 48.76,380.41 49.12,380.42 49.48,380.42 49.85,380.42 50.21,380.42 50.58,380.42 50.94,380.43 51.3,380.43 51.67,380.44 52.03,380.44 52.4,380.44 52.76,380.45 53.12,380.46 53.49,380.46 53.85,380.47 54.22,380.48 54.58,380.49 54.94,380.5 55.31,380.52 55.67,380.53 56.04,380.55 56.4,380.57 56.76,380.59 57.13,380.61 57.49,380.64 57.86,380.67 58.22,380.7 58.58,380.74 58.95,380.78 59.31,380.83 59.68,380.89 60.04,380.95 60.4,381.02 60.77,381.1 61.13,381.18 61.5,381.28 61.86,381.39 62.22,381.51 62.59,381.65 62.95,381.8 63.32,381.98 63.68,382.17 64.04,382.39 64.41,382.63 64.77,382.89 65.14,383.19 65.5,383.52 65.86,383.89 66.23,384.3 66.59,384.75 66.96,385.25 67.32,385.79 67.68,386.39 68.05,387.04 68.41,387.75 68.78,388.52 69.14,389.36 69.5,390.26 69.87,391.22 70.23,392.25 70.6,393.34 70.96,394.49 71.32,395.69 71.69,396.95 72.05,398.25 72.42,399.58 72.78,400.95 73.14,402.33 73.51,403.73 73.87,405.12 74.24,406.51 74.6,407.87 74.96,409.21 75.33,410.51 75.69,411.77 76.06,412.97 76.42,414.12 76.78,415.21 77.15,416.24 77.51,417.2 77.88,418.1 78.24,418.93 78.6,419.7 78.97,420.42 79.33,421.07 79.7,421.67 80.06,422.21 80.42,422.71 80.79,423.16 81.15,423.56 81.52,423.93 81.88,424.26 82.24,424.56 82.61,424.83 82.97,425.07 83.34,425.29 83.7,425.48 84.06,425.65 84.43,425.81 84.79,425.94 85.16,426.07 85.52,426.18 85.88,426.27 86.25,426.36 86.61,426.44 86.98,426.51 87.34,426.57 87.7,426.62 88.07,426.67 88.43,426.72 88.8,426.75 89.16,426.79 89.52,426.82 89.89,426.84 90.25,426.87 90.62,426.89 90.98,426.91 91.34,426.93 91.71,426.94 92.07,426.95 92.44,426.96 92.8,426.98 93.16,426.98 93.53,426.99 93.89,427 94.26,427.01 94.62,427.01 94.98,427.02 95.35,427.02 95.71,427.03 96.08,427.03 96.44,427.03" fill="none" stroke="#9a0f35" stroke-width="1.1" stroke-linejoin="round"/>
<polyline points="38.2,380.4 38.56,380.4 38.93,380.4 39.29,380.4 39.66,380.4 40.02,380.4 40.38,380.4 40.75,380.4 41.11,380.4 41.48,380.4 41.84,380.4 42.2,380.4 42.57,380.41 42.93,380.41 43.3,380.41 43.66,380.41 44.02,380.41 44.39,380.41 44.75,380.41 45.12,380.41 45.48,380.41 45.84,380.41 46.21,380.41 46.57,380.41 46.94,380.42 47.3,380.42 47.66,380.42 48.03,380.42 48.39,380.42 48.76,380.43 49.12,380.43 49.48,380.43 49.85,380.44 50.21,380.44 50.58,380.44 50.94,380.45 51.3,380.45 51.67,380.46 52.03,380.46 52.4,380.47 52.76,380.48 53.12,380.48 53.49,380.49 53.85,380.5 54.22,380.51 54.58,380.52 54.94,380.54 55.31,380.55 55.67,380.57 56.04,380.58 56.4,380.6 56.76,380.62 57.13,380.64 57.49,380.67 57.86,380.69 58.22,380.72 58.58,380.76 58.95,380.79 59.31,380.83 59.68,380.88 60.04,380.92 60.4,380.98 60.77,381.03 61.13,381.1 61.5,381.17 61.86,381.24 62.22,381.32 62.59,381.42 62.95,381.52 63.32,381.63 63.68,381.75 64.04,381.88 64.41,382.02 64.77,382.18 65.14,382.35 65.5,382.54 65.86,382.74 66.23,382.96 66.59,383.21 66.96,383.47 67.32,383.75 67.68,384.06 68.05,384.4 68.41,384.76 68.78,385.15 69.14,385.56 69.5,386.01 69.87,386.49 70.23,387.01 70.6,387.56 70.96,388.14 71.32,388.76 71.69,389.41 72.05,390.1 72.42,390.82 72.78,391.58 73.14,392.37 73.51,393.19 73.87,394.04 74.24,394.91 74.6,395.8 74.96,396.71 75.33,397.64 75.69,398.58 76.06,399.53 76.42,400.47 76.78,401.42 77.15,402.36 77.51,403.29 77.88,404.2 78.24,405.09 78.6,405.97 78.97,406.81 79.33,407.63 79.7,408.42 80.06,409.18 80.42,409.9 80.79,410.59 81.15,411.24 81.52,411.86 81.88,412.44 82.24,412.99 82.61,413.51 82.97,413.99 83.34,414.44 83.7,414.86 84.06,415.24 84.43,415.61 84.79,415.94 85.16,416.25 85.52,416.53 85.88,416.8 86.25,417.04 86.61,417.26 86.98,417.46 87.34,417.65 87.7,417.82 88.07,417.98 88.43,418.12 88.8,418.26 89.16,418.38 89.52,418.49 89.89,418.59 90.25,418.68 90.62,418.76 90.98,418.84 91.34,418.91 91.71,418.97 92.07,419.03 92.44,419.08 92.8,419.13 93.16,419.17 93.53,419.21 93.89,419.24 94.26,419.28 94.62,419.31 94.98,419.33 95.35,419.36 95.71,419.38 96.08,419.4 96.44,419.42" fill="none" stroke="#22355c" stroke-width="1.2" stroke-linejoin="round"/>
<polyline points="38.2,380.4 38.56,380.4 38.93,380.4 39.29,380.4 39.66,380.4 40.02,380.4 40.38,380.4 40.75,380.4 41.11,380.4 41.48,380.4 41.84,380.4 42.2,380.4 42.57,380.4 42.93,380.4 43.3,380.4 43.66,380.4 44.02,380.4 44.39,380.4 44.75,380.4 45.12,380.4 45.48,380.4 45.84,380.4 46.21,380.4 46.57,380.4 46.94,380.4 47.3,380.4 47.66,380.4 48.03,380.4 48.39,380.4 48.76,380.4 49.12,380.4 49.48,380.4 49.85,380.4 50.21,380.4 50.58,380.4 50.94,380.4 51.3,380.4 51.67,380.4 52.03,380.4 52.4,380.4 52.76,380.4 53.12,380.4 53.49,380.4 53.85,380.4 54.22,380.4 54.58,380.4 54.94,380.4 55.31,380.4 55.67,380.4 56.04,380.4 56.4,380.4 56.76,380.4 57.13,380.4 57.49,380.4 57.86,380.4 58.22,380.4 58.58,380.4 58.95,380.4 59.31,380.4 59.68,380.4 60.04,380.4 60.4,380.4 60.77,380.4 61.13,380.4 61.5,380.4 61.86,380.4 62.22,380.4 62.59,380.4 62.95,380.4 63.32,380.4 63.68,380.4 64.04,380.4 64.41,380.4 64.77,380.4 65.14,380.4 65.5,380.4 65.86,380.4 66.23,380.4 66.59,380.4 66.96,380.4 67.32,380.4 67.68,380.4 68.05,380.4 68.41,380.4 68.78,380.4 69.14,380.4 69.5,380.4 69.87,380.4 70.23,380.4 70.6,380.4 70.96,380.4 71.32,380.4 71.69,380.4 72.05,380.4 72.42,380.4 72.78,380.4 73.14,380.4 73.51,380.4 73.87,380.4 74.24,380.4 74.6,380.4 74.96,380.4 75.33,380.4 75.69,380.4 76.06,380.4 76.42,380.4 76.78,380.4 77.15,380.4 77.51,380.4 77.88,380.4 78.24,380.4 78.6,380.4 78.97,380.4 79.33,380.4 79.7,380.4 80.06,380.4 80.42,380.4 80.79,380.4 81.15,380.4 81.52,380.4 81.88,380.4 82.24,380.4 82.61,380.4 82.97,380.4 83.34,380.4 83.7,380.4 84.06,380.4 84.43,380.4 84.79,380.4 85.16,380.4 85.52,380.4 85.88,380.4 86.25,380.41 86.61,380.41 86.98,380.42 87.34,380.44 87.7,380.48 88.07,380.54 88.43,380.67 88.8,380.91 89.16,381.33 89.52,382.07 89.89,383.26 90.25,384.95 90.62,387.01 90.98,389.07 91.34,390.77 91.71,391.96 92.07,392.69 92.44,393.12 92.8,393.36 93.16,393.48 93.53,393.55 93.89,393.59 94.26,393.61 94.62,393.62 94.98,393.62 95.35,393.62 95.71,393.63 96.08,393.63 96.44,393.63" fill="none" stroke="#40264a" stroke-width="1.2" stroke-linejoin="round"/>
<rect x="56.82" y="379.3" width="2.8" height="2.8" fill="#9a0f35"/>
<rect x="62.28" y="380.77" width="2.8" height="2.8" fill="#9a0f35"/>
<rect x="67.74" y="387.96" width="2.8" height="2.8" fill="#9a0f35"/>
<rect x="73.2" y="406.47" width="2.8" height="2.8" fill="#9a0f35"/>
<rect x="78.66" y="420.81" width="2.8" height="2.8" fill="#9a0f35"/>
<rect x="84.12" y="424.78" width="2.8" height="2.8" fill="#9a0f35"/>
<rect x="89.58" y="425.51" width="2.8" height="2.8" fill="#9a0f35"/>
<rect x="95.04" y="425.63" width="2.8" height="2.8" fill="#9a0f35"/>
<circle cx="58.22" cy="380.72" r="1.4" fill="#22355c" stroke="none" stroke-width="1"/>
<circle cx="63.68" cy="381.75" r="1.4" fill="#22355c" stroke="none" stroke-width="1"/>
<circle cx="69.14" cy="385.56" r="1.4" fill="#22355c" stroke="none" stroke-width="1"/>
<circle cx="74.6" cy="395.8" r="1.4" fill="#22355c" stroke="none" stroke-width="1"/>
<circle cx="80.06" cy="409.18" r="1.4" fill="#22355c" stroke="none" stroke-width="1"/>
<circle cx="85.52" cy="416.53" r="1.4" fill="#22355c" stroke="none" stroke-width="1"/>
<circle cx="90.98" cy="418.84" r="1.4" fill="#22355c" stroke="none" stroke-width="1"/>
<circle cx="96.44" cy="419.42" r="1.4" fill="#22355c" stroke="none" stroke-width="1"/>
<path d="M56.62 379.2h3.2l-1.6 2.9z" fill="#40264a"/>
<path d="M62.08 379.2h3.2l-1.6 2.9z" fill="#40264a"/>
<path d="M67.54 379.2h3.2l-1.6 2.9z" fill="#40264a"/>
<path d="M73 379.2h3.2l-1.6 2.9z" fill="#40264a"/>
<path d="M78.46 379.2h3.2l-1.6 2.9z" fill="#40264a"/>
<path d="M83.92 379.2h3.2l-1.6 2.9z" fill="#40264a"/>
<path d="M89.38 387.87h3.2l-1.6 2.9z" fill="#40264a"/>
<path d="M94.84 392.43h3.2l-1.6 2.9z" fill="#40264a"/>
<line x1="58.22" y1="373.67" x2="58.22" y2="387.13" stroke="#40264a" stroke-width="0.8"/>
<line x1="57.12" y1="373.67" x2="59.32" y2="373.67" stroke="#40264a" stroke-width="0.8"/>
<line x1="57.12" y1="387.13" x2="59.32" y2="387.13" stroke="#40264a" stroke-width="0.8"/>
<line x1="69.14" y1="373.67" x2="69.14" y2="387.13" stroke="#40264a" stroke-width="0.8"/>
<line x1="68.04" y1="373.67" x2="70.24" y2="373.67" stroke="#40264a" stroke-width="0.8"/>
<line x1="68.04" y1="387.13" x2="70.24" y2="387.13" stroke="#40264a" stroke-width="0.8"/>
<line x1="74.6" y1="378.96" x2="74.6" y2="381.84" stroke="#40264a" stroke-width="0.8"/>
<line x1="73.5" y1="378.96" x2="75.7" y2="378.96" stroke="#40264a" stroke-width="0.8"/>
<line x1="73.5" y1="381.84" x2="75.7" y2="381.84" stroke="#40264a" stroke-width="0.8"/>
<line x1="80.06" y1="378.96" x2="80.06" y2="381.84" stroke="#40264a" stroke-width="0.8"/>
<line x1="78.96" y1="378.96" x2="81.16" y2="378.96" stroke="#40264a" stroke-width="0.8"/>
<line x1="78.96" y1="381.84" x2="81.16" y2="381.84" stroke="#40264a" stroke-width="0.8"/>
<line x1="85.52" y1="373.67" x2="85.52" y2="387.14" stroke="#40264a" stroke-width="0.8"/>
<line x1="84.42" y1="373.67" x2="86.62" y2="373.67" stroke="#40264a" stroke-width="0.8"/>
<line x1="84.42" y1="387.14" x2="86.62" y2="387.14" stroke="#40264a" stroke-width="0.8"/>
<line x1="90.98" y1="387.15" x2="90.98" y2="391" stroke="#40264a" stroke-width="0.8"/>
<line x1="89.88" y1="387.15" x2="92.08" y2="387.15" stroke="#40264a" stroke-width="0.8"/>
<line x1="89.88" y1="391" x2="92.08" y2="391" stroke="#40264a" stroke-width="0.8"/>
<line x1="96.44" y1="390.74" x2="96.44" y2="396.51" stroke="#40264a" stroke-width="0.8"/>
<line x1="95.34" y1="390.74" x2="97.54" y2="390.74" stroke="#40264a" stroke-width="0.8"/>
<line x1="95.34" y1="396.51" x2="97.54" y2="396.51" stroke="#40264a" stroke-width="0.8"/>
<line x1="80.06" y1="407.73" x2="80.06" y2="410.62" stroke="#22355c" stroke-width="0.8"/>
<line x1="78.96" y1="407.73" x2="81.16" y2="407.73" stroke="#22355c" stroke-width="0.8"/>
<line x1="85.52" y1="415.09" x2="85.52" y2="417.98" stroke="#22355c" stroke-width="0.8"/>
<line x1="84.42" y1="415.09" x2="86.62" y2="415.09" stroke="#22355c" stroke-width="0.8"/>
<line x1="90.98" y1="417.87" x2="90.98" y2="419.8" stroke="#22355c" stroke-width="0.8"/>
<line x1="89.88" y1="417.87" x2="92.08" y2="417.87" stroke="#22355c" stroke-width="0.8"/>
<line x1="96.44" y1="417.01" x2="96.44" y2="421.82" stroke="#22355c" stroke-width="0.8"/>
<line x1="95.34" y1="417.01" x2="97.54" y2="417.01" stroke="#22355c" stroke-width="0.8"/>
<circle cx="105.6" cy="388.1" r="1.5" fill="#22355c" stroke="none" stroke-width="1"/>
<rect x="104.1" y="396.5" width="3" height="3" fill="#9a0f35"/>
<path d="M103.9 409.6h3.4l-1.7 -3.1z" fill="none" stroke="#6aa860" stroke-width="0.8"/>
<path d="M103.9 417.6h3.4l-1.7 3.1z" fill="#40264a"/>
<text x="109.4" y="390.7" font-size="7.5" text-anchor="start" fill="#222" font-weight="normal" stroke="#222" stroke-width="0.3">AE</text>
<text x="149" y="390.7" font-size="7.5" text-anchor="start" fill="#222" font-weight="normal" stroke="#222" stroke-width="0.3">0.12</text>
<text x="109.4" y="400.8" font-size="7.5" text-anchor="start" fill="#222" font-weight="normal" stroke="#222" stroke-width="0.3">Kasumi-1</text>
<text x="149" y="400.8" font-size="7.5" text-anchor="start" fill="#222" font-weight="normal" stroke="#222" stroke-width="0.3">0.08</text>
<text x="109.4" y="411.2" font-size="7.5" text-anchor="start" fill="#222" font-weight="normal" stroke="#222" stroke-width="0.3">SKNO-1</text>
<text x="149" y="411.2" font-size="7.5" text-anchor="start" fill="#222" font-weight="normal" stroke="#222" stroke-width="0.3">0.04</text>
<text x="109.4" y="421.6" font-size="7.5" text-anchor="start" fill="#222" font-weight="normal" stroke="#222" stroke-width="0.3">CD34+</text>
<text x="149" y="421.6" font-size="7.5" text-anchor="start" fill="#222" font-weight="normal" stroke="#222" stroke-width="0.3">&gt;1.6</text>
<text x="141" y="381" font-size="7.3" text-anchor="start" fill="#222" font-weight="normal" stroke="#222" stroke-width="0.3">IC50(uM)</text>
<line x1="141" y1="382.5" x2="171.8" y2="382.5" stroke="#222" stroke-width="0.8"/>
<text x="187.6" y="328.9" font-size="11.8" text-anchor="start" fill="#000" font-weight="bold">G</text>
<line x1="219.3" y1="347.5" x2="219.3" y2="429.3" stroke="#111" stroke-width="1"/>
<line x1="218.8" y1="428.8" x2="284.8" y2="428.8" stroke="#111" stroke-width="1"/>
<line x1="215.8" y1="428.8" x2="219.3" y2="428.8" stroke="#111" stroke-width="1"/>
<text x="214" y="431.5" font-size="7.6" text-anchor="end" fill="#222" font-weight="normal" stroke="#222" stroke-width="0.3">0.0</text>
<line x1="215.8" y1="415.64" x2="219.3" y2="415.64" stroke="#111" stroke-width="1"/>
<text x="214" y="418.34" font-size="7.6" text-anchor="end" fill="#222" font-weight="normal" stroke="#222" stroke-width="0.3">0.2</text>
<line x1="215.8" y1="402.48" x2="219.3" y2="402.48" stroke="#111" stroke-width="1"/>
<text x="214" y="405.18" font-size="7.6" text-anchor="end" fill="#222" font-weight="normal" stroke="#222" stroke-width="0.3">0.4</text>
<line x1="215.8" y1="389.32" x2="219.3" y2="389.32" stroke="#111" stroke-width="1"/>
<text x="214" y="392.02" font-size="7.6" text-anchor="end" fill="#222" font-weight="normal" stroke="#222" stroke-width="0.3">0.6</text>
<line x1="215.8" y1="376.16" x2="219.3" y2="376.16" stroke="#111" stroke-width="1"/>
<text x="214" y="378.86" font-size="7.6" text-anchor="end" fill="#222" font-weight="normal" stroke="#222" stroke-width="0.3">0.8</text>
<line x1="215.8" y1="363" x2="219.3" y2="363" stroke="#111" stroke-width="1"/>
<text x="214" y="365.7" font-size="7.6" text-anchor="end" fill="#222" font-weight="normal" stroke="#222" stroke-width="0.3">1.0</text>
<line x1="215.8" y1="349.84" x2="219.3" y2="349.84" stroke="#111" stroke-width="1"/>
<text x="214" y="352.54" font-size="7.6" text-anchor="end" fill="#222" font-weight="normal" stroke="#222" stroke-width="0.3">1.2</text>
<line x1="219.3" y1="428.8" x2="219.3" y2="431.6" stroke="#111" stroke-width="1"/>
<line x1="251.6" y1="428.8" x2="251.6" y2="431.6" stroke="#111" stroke-width="1"/>
<line x1="284" y1="428.8" x2="284" y2="431.6" stroke="#111" stroke-width="1"/>
<rect x="227.1" y="363" width="7.9" height="65.8" fill="#2d4b82"/>
<line x1="231.05" y1="363" x2="231.05" y2="359.05" stroke="#222" stroke-width="1"/>
<line x1="229.75" y1="359.05" x2="232.35" y2="359.05" stroke="#222" stroke-width="1.2"/>
<rect x="236" y="361.68" width="7.9" height="67.12" fill="#aa0630"/>
<line x1="239.95" y1="361.68" x2="239.95" y2="359.71" stroke="#222" stroke-width="1"/>
<line x1="238.65" y1="359.71" x2="241.25" y2="359.71" stroke="#222" stroke-width="1.2"/>
<rect x="259" y="363" width="7.9" height="65.8" fill="#2d4b82"/>
<line x1="262.95" y1="363" x2="262.95" y2="351.49" stroke="#222" stroke-width="1"/>
<line x1="261.65" y1="351.49" x2="264.25" y2="351.49" stroke="#222" stroke-width="1.2"/>
<rect x="267.9" y="391.95" width="7.9" height="36.85" fill="#aa0630"/>
<line x1="271.85" y1="391.95" x2="271.85" y2="387.35" stroke="#222" stroke-width="1"/>
<line x1="270.55" y1="387.35" x2="273.15" y2="387.35" stroke="#222" stroke-width="1.2"/>
<line x1="263" y1="349.3" x2="271.3" y2="349.3" stroke="#111" stroke-width="1"/>
<circle cx="267.2" cy="346" r="1.2" fill="#111" stroke="none" stroke-width="1"/>
<rect x="225.1" y="337" width="3.3" height="3.3" fill="#2d4b82"/>
<text x="230.3" y="341.3" font-size="7.9" text-anchor="start" fill="#222" font-weight="normal" stroke="#222" stroke-width="0.3">0uM</text>
<rect x="252.9" y="337" width="3.3" height="3.3" fill="#aa0630"/>
<text x="259.2" y="341.3" font-size="7.9" text-anchor="start" fill="#222" font-weight="normal" stroke="#222" stroke-width="0.3">0.1uM</text>
<text x="197.4" y="389.4" font-size="8.7" text-anchor="middle" fill="#222" font-weight="normal" transform="rotate(-90 197.4 389.4)" stroke="#222" stroke-width="0.3">Relative colony number</text>
<text x="235.4" y="441.8" font-size="8" text-anchor="middle" fill="#222" font-weight="normal" stroke="#222" stroke-width="0.3">CD34+</text>
<text x="267.2" y="441.8" font-size="8" text-anchor="middle" fill="#222" font-weight="normal" stroke="#222" stroke-width="0.3">AE</text>
<text x="300.8" y="328.9" font-size="11.8" text-anchor="start" fill="#000" font-weight="bold">H</text>
<line x1="333" y1="345.5" x2="333" y2="429.3" stroke="#111" stroke-width="1"/>
<line x1="332.5" y1="428.8" x2="399.8" y2="428.8" stroke="#111" stroke-width="1"/>
<line x1="329.5" y1="428.8" x2="333" y2="428.8" stroke="#111" stroke-width="1"/>
<text x="324.6" y="431.5" font-size="7.6" text-anchor="end" fill="#222" font-weight="normal" stroke="#222" stroke-width="0.3">0.0</text>
<line x1="329.5" y1="415.48" x2="333" y2="415.48" stroke="#111" stroke-width="1"/>
<text x="324.6" y="418.18" font-size="7.6" text-anchor="end" fill="#222" font-weight="normal" stroke="#222" stroke-width="0.3">0.2</text>
<line x1="329.5" y1="402.16" x2="333" y2="402.16" stroke="#111" stroke-width="1"/>
<text x="324.6" y="404.86" font-size="7.6" text-anchor="end" fill="#222" font-weight="normal" stroke="#222" stroke-width="0.3">0.4</text>
<line x1="329.5" y1="388.84" x2="333" y2="388.84" stroke="#111" stroke-width="1"/>
<text x="324.6" y="391.54" font-size="7.6" text-anchor="end" fill="#222" font-weight="normal" stroke="#222" stroke-width="0.3">0.6</text>
<line x1="329.5" y1="375.52" x2="333" y2="375.52" stroke="#111" stroke-width="1"/>
<text x="324.6" y="378.22" font-size="7.6" text-anchor="end" fill="#222" font-weight="normal" stroke="#222" stroke-width="0.3">0.8</text>
<line x1="329.5" y1="362.2" x2="333" y2="362.2" stroke="#111" stroke-width="1"/>
<text x="324.6" y="364.9" font-size="7.6" text-anchor="end" fill="#222" font-weight="normal" stroke="#222" stroke-width="0.3">1.0</text>
<line x1="329.5" y1="348.88" x2="333" y2="348.88" stroke="#111" stroke-width="1"/>
<text x="324.6" y="351.58" font-size="7.6" text-anchor="end" fill="#222" font-weight="normal" stroke="#222" stroke-width="0.3">1.2</text>
<line x1="333" y1="428.8" x2="333" y2="431.6" stroke="#111" stroke-width="1"/>
<line x1="365.2" y1="428.8" x2="365.2" y2="431.6" stroke="#111" stroke-width="1"/>
<line x1="398" y1="428.8" x2="398" y2="431.6" stroke="#111" stroke-width="1"/>
<rect x="340.8" y="362.2" width="7.2" height="66.6" fill="#2d4b82"/>
<line x1="344.4" y1="362.2" x2="344.4" y2="355.21" stroke="#222" stroke-width="1"/>
<line x1="343.1" y1="355.21" x2="345.7" y2="355.21" stroke="#222" stroke-width="1.2"/>
<rect x="349.8" y="389.51" width="7.2" height="39.29" fill="#aa0630"/>
<line x1="353.4" y1="389.51" x2="353.4" y2="386.31" stroke="#222" stroke-width="1"/>
<line x1="352.1" y1="386.31" x2="354.7" y2="386.31" stroke="#222" stroke-width="1.2"/>
<rect x="372.9" y="362.2" width="7.2" height="66.6" fill="#2d4b82"/>
<line x1="376.5" y1="362.2" x2="376.5" y2="354.01" stroke="#222" stroke-width="1"/>
<line x1="375.2" y1="354.01" x2="377.8" y2="354.01" stroke="#222" stroke-width="1.2"/>
<rect x="382" y="403.49" width="7.2" height="25.31" fill="#aa0630"/>
<line x1="385.6" y1="403.49" x2="385.6" y2="399.63" stroke="#222" stroke-width="1"/>
<line x1="384.3" y1="399.63" x2="386.9" y2="399.63" stroke="#222" stroke-width="1.2"/>
<line x1="345.1" y1="350.9" x2="354.1" y2="350.9" stroke="#111" stroke-width="1"/>
<circle cx="347.6" cy="348.1" r="1.2" fill="#111" stroke="none" stroke-width="1"/>
<circle cx="351.3" cy="348.1" r="1.2" fill="#111" stroke="none" stroke-width="1"/>
<line x1="377.3" y1="350.9" x2="386.3" y2="350.9" stroke="#111" stroke-width="1"/>
<circle cx="380.1" cy="348.1" r="1.2" fill="#111" stroke="none" stroke-width="1"/>
<circle cx="383.7" cy="348.1" r="1.2" fill="#111" stroke="none" stroke-width="1"/>
<rect x="338.4" y="337" width="3.3" height="3.3" fill="#2d4b82"/>
<text x="344.6" y="341.3" font-size="7.9" text-anchor="start" fill="#222" font-weight="normal" stroke="#222" stroke-width="0.3">0uM</text>
<rect x="366.6" y="337" width="3.3" height="3.3" fill="#aa0630"/>
<text x="372.2" y="341.3" font-size="7.9" text-anchor="start" fill="#222" font-weight="normal" stroke="#222" stroke-width="0.3">0.1uM</text>
<text x="308.6" y="388.5" font-size="8.7" text-anchor="middle" fill="#222" font-weight="normal" transform="rotate(-90 308.6 388.5)" stroke="#222" stroke-width="0.3">Relative colony number</text>
<text x="350.9" y="440.2" font-size="8" text-anchor="end" fill="#222" font-weight="normal" transform="rotate(-45 350.9 440.2)" stroke="#222" stroke-width="0.3">Kasumi-1</text>
<text x="384" y="439.6" font-size="8" text-anchor="end" fill="#222" font-weight="normal" transform="rotate(-45 384 439.6)" stroke="#222" stroke-width="0.3">SKNO-1</text>
<text x="415.6" y="328.9" font-size="11.8" text-anchor="start" fill="#000" font-weight="bold">I</text>
<line x1="446.9" y1="348.2" x2="446.9" y2="429.3" stroke="#111" stroke-width="1"/>
<line x1="446.4" y1="428.8" x2="513" y2="428.8" stroke="#111" stroke-width="1"/>
<line x1="443.4" y1="428.8" x2="446.9" y2="428.8" stroke="#111" stroke-width="1"/>
<text x="440.6" y="431.5" font-size="7.6" text-anchor="end" fill="#222" font-weight="normal" stroke="#222" stroke-width="0.3">0.0</text>
<line x1="443.4" y1="416.6" x2="446.9" y2="416.6" stroke="#111" stroke-width="1"/>
<text x="440.6" y="419.3" font-size="7.6" text-anchor="end" fill="#222" font-weight="normal" stroke="#222" stroke-width="0.3">0.2</text>
<line x1="443.4" y1="404.4" x2="446.9" y2="404.4" stroke="#111" stroke-width="1"/>
<text x="440.6" y="407.1" font-size="7.6" text-anchor="end" fill="#222" font-weight="normal" stroke="#222" stroke-width="0.3">0.4</text>
<line x1="443.4" y1="392.2" x2="446.9" y2="392.2" stroke="#111" stroke-width="1"/>
<text x="440.6" y="394.9" font-size="7.6" text-anchor="end" fill="#222" font-weight="normal" stroke="#222" stroke-width="0.3">0.6</text>
<line x1="443.4" y1="380" x2="446.9" y2="380" stroke="#111" stroke-width="1"/>
<text x="440.6" y="382.7" font-size="7.6" text-anchor="end" fill="#222" font-weight="normal" stroke="#222" stroke-width="0.3">0.8</text>
<line x1="443.4" y1="367.8" x2="446.9" y2="367.8" stroke="#111" stroke-width="1"/>
<text x="440.6" y="370.5" font-size="7.6" text-anchor="end" fill="#222" font-weight="normal" stroke="#222" stroke-width="0.3">1.0</text>
<line x1="443.4" y1="355.6" x2="446.9" y2="355.6" stroke="#111" stroke-width="1"/>
<text x="440.6" y="358.3" font-size="7.6" text-anchor="end" fill="#222" font-weight="normal" stroke="#222" stroke-width="0.3">1.2</text>
<line x1="446.9" y1="428.8" x2="446.9" y2="431.6" stroke="#111" stroke-width="1"/>
<line x1="478.4" y1="428.8" x2="478.4" y2="431.6" stroke="#111" stroke-width="1"/>
<line x1="510.6" y1="428.8" x2="510.6" y2="431.6" stroke="#111" stroke-width="1"/>
<rect x="454" y="367.8" width="8.2" height="61" fill="#2d4b82"/>
<line x1="458.1" y1="367.8" x2="458.1" y2="349.5" stroke="#222" stroke-width="1"/>
<line x1="456.8" y1="349.5" x2="459.4" y2="349.5" stroke="#222" stroke-width="1.2"/>
<rect x="463" y="409.89" width="8.1" height="18.91" fill="#aa0630"/>
<line x1="467.05" y1="409.89" x2="467.05" y2="403.18" stroke="#222" stroke-width="1"/>
<line x1="465.75" y1="403.18" x2="468.35" y2="403.18" stroke="#222" stroke-width="1.2"/>
<rect x="485.6" y="367.8" width="7.8" height="61" fill="#2d4b82"/>
<line x1="489.5" y1="367.8" x2="489.5" y2="361.09" stroke="#222" stroke-width="1"/>
<line x1="488.2" y1="361.09" x2="490.8" y2="361.09" stroke="#222" stroke-width="1.2"/>
<rect x="494.8" y="384.88" width="7.7" height="43.92" fill="#aa0630"/>
<line x1="498.65" y1="384.88" x2="498.65" y2="380.61" stroke="#222" stroke-width="1"/>
<line x1="497.35" y1="380.61" x2="499.95" y2="380.61" stroke="#222" stroke-width="1.2"/>
<line x1="458.1" y1="348.7" x2="466.4" y2="348.7" stroke="#111" stroke-width="1"/>
<circle cx="462.3" cy="345.5" r="1.2" fill="#111" stroke="none" stroke-width="1"/>
<line x1="490" y1="358.8" x2="498.3" y2="358.8" stroke="#111" stroke-width="1"/>
<circle cx="494.1" cy="355.7" r="1.2" fill="#111" stroke="none" stroke-width="1"/>
<rect x="451.3" y="337" width="3.3" height="3.3" fill="#2d4b82"/>
<text x="458.4" y="341.3" font-size="7.9" text-anchor="start" fill="#222" font-weight="normal" stroke="#222" stroke-width="0.3">0uM</text>
<rect x="479.9" y="337" width="3.3" height="3.3" fill="#aa0630"/>
<text x="486" y="341.3" font-size="7.9" text-anchor="start" fill="#222" font-weight="normal" stroke="#222" stroke-width="0.3">0.1uM</text>
<text x="423.5" y="388" font-size="8.7" text-anchor="middle" fill="#222" font-weight="normal" transform="rotate(-90 423.5 388)" stroke="#222" stroke-width="0.3">Relative colony number</text>
<text x="465.3" y="438.2" font-size="8.3" text-anchor="end" fill="#222" font-weight="normal" transform="rotate(-45 465.3 438.2)" stroke="#222" stroke-width="0.3">patient-1</text>
<text x="497" y="438.2" font-size="8.3" text-anchor="end" fill="#222" font-weight="normal" transform="rotate(-45 497 438.2)" stroke="#222" stroke-width="0.3">patient-2</text>
</g>
<rect x="0" y="0" width="520" height="1" fill="#000"/>
<rect x="0" y="1" width="520" height="1" fill="#000" opacity="0.35"/>
<rect x="0" y="0" width="1" height="471" fill="#000"/>
<rect x="519" y="0" width="1" height="471" fill="#000"/>
<rect x="518" y="0" width="1" height="471" fill="#000" opacity="0.25"/>
<rect x="0" y="470" width="520" height="1" fill="#000"/>
<rect x="0" y="469" width="520" height="1" fill="#000" opacity="0.5"/>
</svg>
</body></html>
